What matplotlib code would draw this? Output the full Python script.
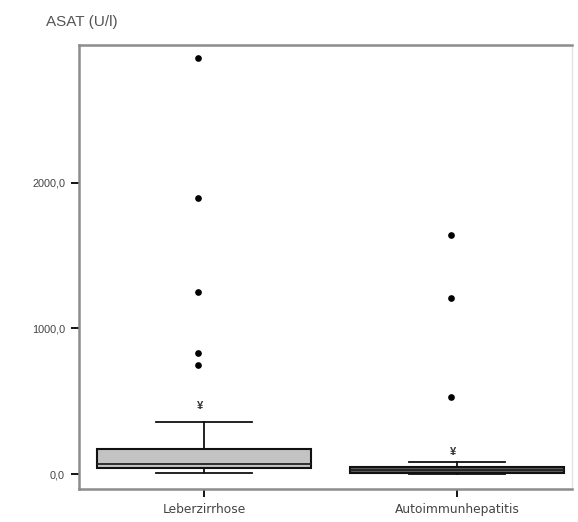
import matplotlib.pyplot as plt

plt.rcParams['font.family'] = ['Liberation Sans', 'DejaVu Sans']

# Box statistics (ASAT in U/l)
groups = ['Leberzirrhose', 'Autoimmunhepatitis']
q1 = [41, 10]
med = [69, 30]
q3 = [172, 50]
whislo = [7, 0]
whishi = [355, 80]
outliers = [[2860, 1897, 1250, 830, 748], [1643, 1210, 528]]
extremes = [[470], [150]]
box_colors = ['#c3c3c3', '#5e5e5e']

ticks = [0, 1000, 2000]
tick_labels = ['0,0', '1000,0', '2000,0']

fig = plt.figure(figsize=(5.78, 5.22), dpi=100)
ax = fig.add_axes([0.1367, 0.0632, 0.8529, 0.8506])

stats = []
for i, g in enumerate(groups):
    stats.append(dict(label=g, q1=q1[i], med=med[i], q3=q3[i],
                      whislo=whislo[i], whishi=whishi[i], fliers=[]))

bp = ax.bxp(stats, positions=[1, 2], widths=0.846, patch_artist=True,
            showfliers=False, capwidths=0.38,
            medianprops=dict(color='#222222', linewidth=1.3),
            whiskerprops=dict(color='#111111', linewidth=1.3),
            capprops=dict(color='#111111', linewidth=1.3),
            boxprops=dict(edgecolor='#111111', linewidth=1.5))
for patch, c in zip(bp['boxes'], box_colors):
    patch.set_facecolor(c)

for i in range(len(groups)):
    xs = [i + 1 - 0.025] * len(outliers[i])
    ax.plot(xs, outliers[i], 'o', color='black', markersize=3.8)
    for v in extremes[i]:
        ax.text(i + 1 - 0.015, v, '¥', ha='center', va='center',
                fontsize=8, fontweight='bold', color='#333333')

ax.set_xlim(0.506, 2.455)
ax.set_ylim(-103, 2948)
ax.set_yticks(ticks)
ax.set_yticklabels(tick_labels)
ax.tick_params(axis='both', direction='out', length=6, width=1.3,
               color='black', labelsize=7.8, labelcolor='#444444', pad=4)
ax.set_xticks([1, 2])
ax.set_xticklabels(groups, fontsize=8.8, family='DejaVu Sans')

for side in ['left', 'bottom', 'top']:
    ax.spines[side].set_color('#8c8c8c')
    ax.spines[side].set_linewidth(1.8)
ax.spines['right'].set_color('#e4e4e4')
ax.spines['right'].set_linewidth(1.0)

fig.text(46 / 578, 1 - 22 / 522, 'ASAT (U/l)', fontsize=11,
         color='#555555', ha='left', va='center')

fig.savefig('out.png', dpi=100)
